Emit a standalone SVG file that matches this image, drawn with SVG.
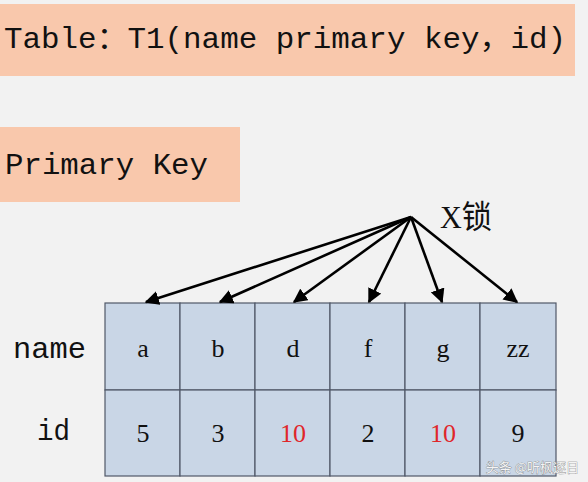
<svg xmlns="http://www.w3.org/2000/svg" width="588" height="482" viewBox="0 0 588 482">
<style>
.mono{font-family:"Liberation Mono","Noto Sans CJK SC",monospace;fill:#111}
.cell{fill:#c9d6e6;stroke:#505868;stroke-width:1.2}
.val{font-family:"Liberation Serif","Noto Sans CJK SC",serif;font-size:26px;fill:#111;text-anchor:middle}
.red{fill:#e0262a}
.hdr{fill:#f9c8ac}
.arr{stroke:#000;stroke-width:2.6;fill:none;marker-end:url(#ah)}
</style>
<defs>
<marker id="ah" viewBox="0 0 10 10" refX="9" refY="5" markerWidth="5.5" markerHeight="5.5" orient="auto" markerUnits="strokeWidth">
<path d="M0,0 L10,5 L0,10 z" fill="#000"/>
</marker>
</defs>
<rect width="588" height="482" fill="#f2f2f2"/>
<g id="title">
<rect class="hdr" x="0" y="4" width="575" height="72"/>
<text class="mono" x="4" y="48" font-size="30" textLength="562" lengthAdjust="spacingAndGlyphs">Table：T1(name primary key，id)</text>
</g>
<g id="pk">
<rect class="hdr" x="0" y="127" width="240" height="75"/>
<text class="mono" x="5" y="174" font-size="30" textLength="203" lengthAdjust="spacingAndGlyphs">Primary Key</text>
</g>
<g id="xlock">
<text x="440" y="228" font-family="Liberation Serif,'Noto Sans CJK SC',serif" font-size="32" fill="#111" textLength="52" lengthAdjust="spacingAndGlyphs">X锁</text>
</g>
<g id="labels">
<text class="mono" x="13" y="358" font-size="30" textLength="73" lengthAdjust="spacingAndGlyphs">name</text>
<text class="mono" x="37" y="440" font-size="30" textLength="33" lengthAdjust="spacingAndGlyphs">id</text>
</g>
<g id="table">
<rect class="cell" x="105" y="303" width="75" height="87"/>
<rect class="cell" x="180" y="303" width="75" height="87"/>
<rect class="cell" x="255" y="303" width="75" height="87"/>
<rect class="cell" x="330" y="303" width="75" height="87"/>
<rect class="cell" x="405" y="303" width="75" height="87"/>
<rect class="cell" x="480" y="303" width="76" height="87"/>
<rect class="cell" x="105" y="390" width="75" height="86"/>
<rect class="cell" x="180" y="390" width="75" height="86"/>
<rect class="cell" x="255" y="390" width="75" height="86"/>
<rect class="cell" x="330" y="390" width="75" height="86"/>
<rect class="cell" x="405" y="390" width="75" height="86"/>
<rect class="cell" x="480" y="390" width="76" height="86"/>
<text class="val" x="143" y="357">a</text>
<text class="val" x="218" y="357">b</text>
<text class="val" x="293" y="357">d</text>
<text class="val" x="368" y="357">f</text>
<text class="val" x="443" y="357">g</text>
<text class="val" x="518" y="357">zz</text>
<text class="val" x="143" y="442">5</text>
<text class="val" x="218" y="442">3</text>
<text class="val red" x="293" y="442">10</text>
<text class="val" x="368" y="442">2</text>
<text class="val red" x="443" y="442">10</text>
<text class="val" x="518" y="442">9</text>
</g>
<g id="connectors">
<line class="arr" x1="411" y1="217" x2="146" y2="302"/>
<line class="arr" x1="411" y1="217" x2="220" y2="302"/>
<line class="arr" x1="411" y1="217" x2="294" y2="302"/>
<line class="arr" x1="411" y1="217" x2="369" y2="302"/>
<line class="arr" x1="411" y1="217" x2="442" y2="302"/>
<line class="arr" x1="411" y1="217" x2="517" y2="302"/>
</g>
<g id="watermark">
<text x="579" y="472" text-anchor="end" font-family="'Noto Sans CJK SC',sans-serif" font-size="13" fill="#f4f4f4" stroke="#777" stroke-width="0.6" paint-order="stroke">头条 @听枫逐日</text>
</g>
</svg>
